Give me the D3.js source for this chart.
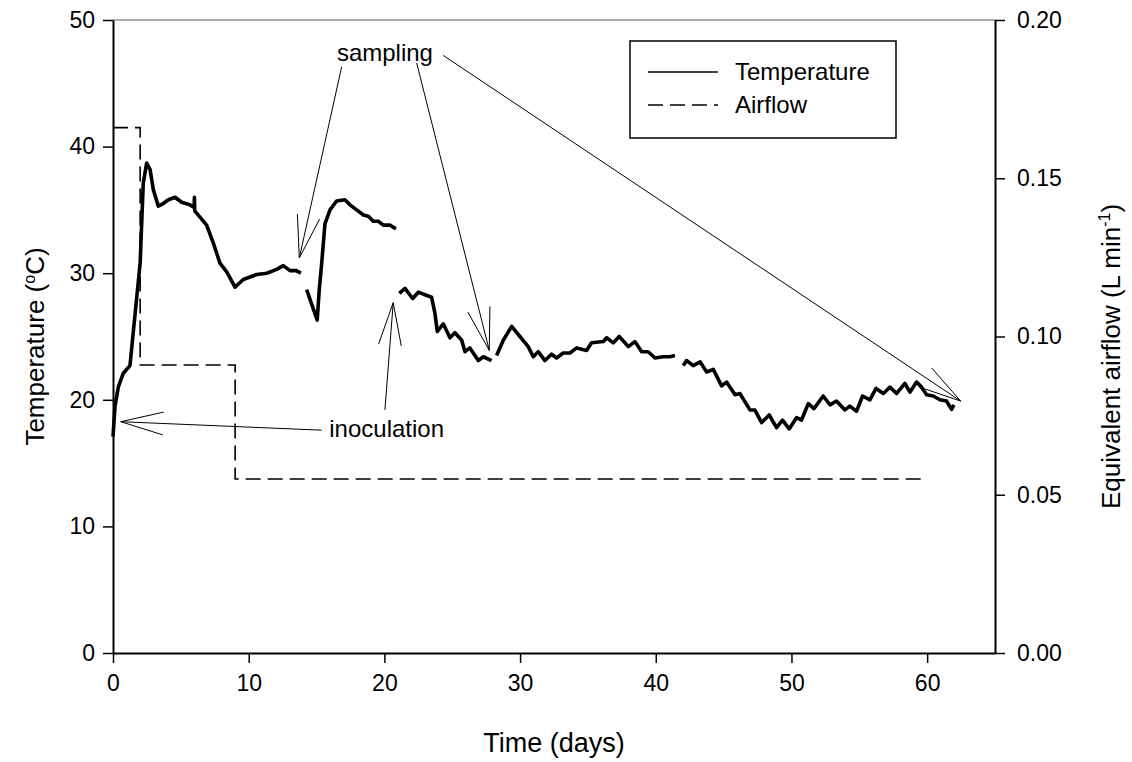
<!DOCTYPE html>
<html>
<head>
<meta charset="utf-8">
<script src="https://cdn.jsdelivr.net/npm/d3@7"></script>
<style>
  body { margin: 0; background: #fff; }
  text { font-family: "Liberation Sans", Arial, sans-serif; fill: #000; }
</style>
</head>
<body>
<div id="viz"></div>
<script>
// temperature record, split where the probe was off (day, ºC)
const tempSeg1 = [[0,17.1],[0.15,19.5],[0.39,21.0],[0.76,22.1],[1.25,22.7],[2.0,30.8],[2.23,37.1],[2.48,38.7],[2.73,38.2],[2.97,36.6],[3.34,35.3],[3.7,35.5],[4.08,35.8],[4.57,36.0],[5.06,35.6],[5.67,35.4],[5.98,35.2],[6.0,36.0],[6.02,35.0],[6.04,34.9],[6.9,33.8],[7.39,32.4],[7.88,30.8],[8.38,30.1],[8.99,28.9],[9.6,29.5],[10.1,29.7],[10.59,29.9],[11.33,30.0],[12.06,30.3],[12.55,30.6],[13.04,30.2],[13.5,30.2],[13.85,30.0]];
const tempSeg2 = [[14.27,28.7],[15.05,26.3],[15.2,28.7],[15.38,30.8],[15.62,33.9],[15.99,35.0],[16.48,35.7],[17.09,35.8],[17.46,35.4],[18.08,34.9],[18.45,34.6],[18.82,34.5],[19.18,34.1],[19.55,34.1],[19.92,33.8],[20.4,33.8],[20.85,33.5]];
const tempSeg3 = [[21.1,28.4],[21.52,28.8],[22.08,28.0],[22.5,28.5],[22.99,28.3],[23.48,28.1],[23.73,26.8],[23.9,25.4],[24.34,26.0],[24.83,24.9],[25.2,25.3],[25.7,24.7],[25.94,23.8],[26.3,24.1],[26.92,23.1],[27.29,23.4],[27.9,23.1]];
const tempSeg4 = [[28.27,23.5],[28.76,24.7],[29.38,25.8],[29.99,25.0],[30.6,24.2],[30.97,23.4],[31.34,23.8],[31.83,23.1],[32.32,23.6],[32.69,23.3],[33.18,23.7],[33.68,23.7],[34.17,24.1],[34.9,23.9],[35.27,24.5],[36.13,24.6],[36.37,24.9],[36.87,24.5],[37.31,25.0],[37.98,24.2],[38.46,24.6],[38.96,23.8],[39.44,23.8],[39.94,23.3],[40.55,23.4],[41.05,23.4],[41.41,23.5]];
const tempSeg5 = [[42.03,22.7],[42.27,23.1],[42.76,22.7],[43.26,23.0],[43.75,22.2],[44.24,22.4],[44.85,21.1],[45.22,21.4],[45.84,20.4],[46.2,20.5],[46.94,19.2],[47.3,19.2],[47.8,18.2],[48.36,18.8],[48.9,17.8],[49.34,18.4],[49.83,17.7],[50.38,18.6],[50.74,18.4],[51.24,19.7],[51.66,19.3],[52.34,20.3],[52.84,19.6],[53.32,19.9],[53.94,19.2],[54.3,19.5],[54.8,19.1],[55.24,20.3],[55.78,20.0],[56.23,20.9],[56.77,20.5],[57.26,21.0],[57.75,20.5],[58.36,21.3],[58.73,20.6],[59.22,21.4],[59.59,21.0],[59.96,20.4],[60.45,20.3],[60.94,20.0],[61.43,19.9],[61.8,19.25],[61.97,19.6]];

// airflow steps (day, L/min)
const airDays = [0, 2, 9, 60];
const airFlow = [0.166, 0.091, 0.055, 0.055];

const xTicks = [0, 10, 20, 30, 40, 50, 60];
const tempTicks = [0, 10, 20, 30, 40, 50];
const airTicks = [0, 0.05, 0.10, 0.15, 0.20];

// annotations in data units (day, ºC)
const samplingLabel = [20.04, 46.8];
const samplingArrows = [
    [[16.85, 46.3], [13.73, 31.2]],
    [[22.38, 46.6], [27.73, 23.9]],
    [[24.34, 47.2], [62.47, 19.9]]
];
const inoculationLabel = [15.94, 17.1];
const inoculationArrows = [
    [[15.38, 17.6], [0.57, 18.27]],
    [[20.04, 19.2], [20.65, 27.67]]
];

const W = 1132, H = 762;
const margin = {top: 20, right: 137, bottom: 109, left: 113},
    width = W - margin.left - margin.right,
    height = H - margin.top - margin.bottom;

const svg = d3.select("#viz")
    .append("svg")
        .attr("width", W)
        .attr("height", H);

const g = svg.append("g")
    .attr("transform", `translate(${margin.left},${margin.top})`);

const x = d3.scaleLinear().domain([0, 65]).range([0, width]);
const y = d3.scaleLinear().domain([0, 50]).range([height, 0]);
const yAir = d3.scaleLinear().domain([0, 0.20]).range([height, 0]);

const fontTick = 23;

// top frame line
g.append("line")
    .attr("x1", 0).attr("x2", width)
    .attr("y1", 0).attr("y2", 0)
    .attr("stroke", "#555").attr("stroke-width", 1);

function styleAxis(sel) {
    sel.select(".domain").attr("stroke", "#000").attr("stroke-width", 2);
    sel.selectAll(".tick line").attr("stroke", "#000").attr("stroke-width", 1.5);
    sel.selectAll(".tick text")
        .style("font-size", fontTick + "px")
        .style("font-family", "'Liberation Sans', Arial, sans-serif")
        .attr("fill", "#000");
}

g.append("g")
    .attr("transform", `translate(0, ${height})`)
    .call(d3.axisBottom(x).tickValues(xTicks).tickSize(10).tickSizeOuter(0).tickPadding(12))
    .call(styleAxis);

g.append("g")
    .call(d3.axisLeft(y).tickValues(tempTicks).tickSize(10).tickSizeOuter(0).tickPadding(8))
    .call(styleAxis);

g.append("g")
    .attr("transform", `translate(${width}, 0)`)
    .call(d3.axisRight(yAir).tickValues(airTicks).tickSize(10).tickSizeOuter(0).tickPadding(12)
        .tickFormat(d3.format(".2f")))
    .call(styleAxis);

// axis titles
svg.append("text")
    .attr("x", margin.left + width / 2)
    .attr("y", 752)
    .attr("text-anchor", "middle")
    .style("font-size", "27px")
    .text("Time (days)");

const yTitle = svg.append("text")
    .attr("transform", `translate(44, ${margin.top + height / 2 + 10}) rotate(-90)`)
    .attr("text-anchor", "middle")
    .style("font-size", "26px");
yTitle.append("tspan").text("Temperature (");
yTitle.append("tspan").attr("dy", -9).style("font-size", "16px").text("o");
yTitle.append("tspan").attr("dy", 9).text("C)");

const rTitle = svg.append("text")
    .attr("transform", `translate(1120, ${margin.top + height / 2 + 20}) rotate(-90)`)
    .attr("text-anchor", "middle")
    .style("font-size", "26px");
rTitle.append("tspan").text("Equivalent airflow (L min");
rTitle.append("tspan").attr("dy", -10).style("font-size", "16px").text("-1");
rTitle.append("tspan").attr("dy", 10).text(")");

// airflow
const airLine = d3.line()
    .x(function(d) { return x(d[0]); })
    .y(function(d) { return yAir(d[1]); })
    .curve(d3.curveStepAfter);

g.append("path")
    .datum(airDays.map(function(d, i) { return [d, airFlow[i]]; }))
    .attr("fill", "none")
    .attr("stroke", "#000")
    .attr("stroke-width", 1.6)
    .attr("stroke-dasharray", "15,7")
    .attr("d", airLine);

// temperature
const tempLine = d3.line()
    .x(function(d) { return x(d[0]); })
    .y(function(d) { return y(d[1]); })
    .curve(d3.curveLinear);

g.selectAll(".temp")
    .data([tempSeg1, tempSeg2, tempSeg3, tempSeg4, tempSeg5])
    .enter()
    .append("path")
        .attr("class", "temp")
        .attr("fill", "none")
        .attr("stroke", "#000")
        .attr("stroke-width", 3.6)
        .attr("stroke-linejoin", "round")
        .attr("stroke-linecap", "butt")
        .attr("d", tempLine);

// arrows: shaft plus open V head
function arrow(a) {
    const x1 = x(a[0][0]), y1 = y(a[0][1]), x2 = x(a[1][0]), y2 = y(a[1][1]);
    const ang = Math.atan2(y1 - y2, x1 - x2), len = 44, spread = 15 * Math.PI / 180;
    const path = d3.path();
    path.moveTo(x1, y1);
    path.lineTo(x2, y2);
    path.moveTo(x2 + len * Math.cos(ang - spread), y2 + len * Math.sin(ang - spread));
    path.lineTo(x2, y2);
    path.lineTo(x2 + len * Math.cos(ang + spread), y2 + len * Math.sin(ang + spread));
    return path.toString();
}

g.selectAll(".arrow")
    .data(samplingArrows.concat(inoculationArrows))
    .enter()
    .append("path")
        .attr("class", "arrow")
        .attr("fill", "none")
        .attr("stroke", "#000")
        .attr("stroke-width", 1)
        .attr("d", arrow);

g.append("text")
    .attr("x", x(samplingLabel[0]))
    .attr("y", y(samplingLabel[1]))
    .attr("text-anchor", "middle")
    .style("font-size", "24px")
    .text("sampling");

g.append("text")
    .attr("x", x(inoculationLabel[0]))
    .attr("y", y(inoculationLabel[1]))
    .attr("text-anchor", "start")
    .style("font-size", "24px")
    .text("inoculation");

// legend
const legend = svg.append("g").attr("transform", "translate(630, 41)");
legend.append("rect")
    .attr("width", 266).attr("height", 97)
    .attr("fill", "#fff").attr("stroke", "#000").attr("stroke-width", 1.5);

const legendItems = [
    {label: "Temperature", dash: null},
    {label: "Airflow", dash: "15,7"}
];
legendItems.forEach(function(d, i) {
    const ly = 31 + i * 33;
    legend.append("line")
        .attr("x1", 18).attr("x2", 88)
        .attr("y1", ly).attr("y2", ly)
        .attr("stroke", "#000").attr("stroke-width", 1.5)
        .attr("stroke-dasharray", d.dash);
    legend.append("text")
        .attr("x", 105).attr("y", ly + 8)
        .style("font-size", "24px")
        .text(d.label);
});
</script>
</body>
</html>
